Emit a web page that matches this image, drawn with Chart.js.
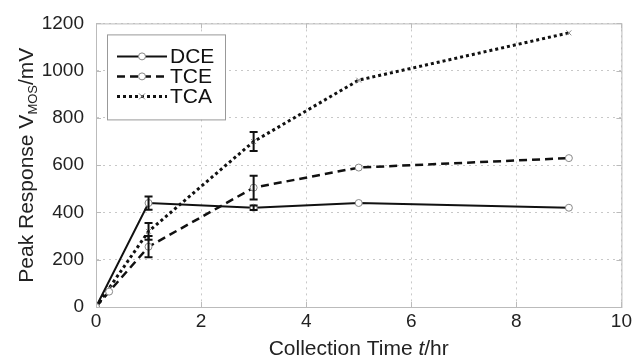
<!DOCTYPE html>
<html>
<head>
<meta charset="utf-8">
<script src="https://cdn.jsdelivr.net/npm/chart.js@4/dist/chart.umd.min.js"></script>
<style>
  html, body { margin: 0; padding: 0; background: #fff; }
  #wrap { width: 635px; height: 360px; }
</style>
</head>
<body>
<div id="wrap"><canvas id="chart" width="635" height="360"></canvas></div>
<script>
// data
var dceT = [0, 1, 3, 5, 9];
var dceV = [0, 440, 420, 440, 420];
var dceErr = [0, 28, 10, 0, 0];

var tceT = [0, 0.25, 1, 3, 5, 9];
var tceV = [0, 65, 255, 505, 590, 630];
var tceErr = [0, 0, 45, 50, 0, 0];

var tcaT = [0, 0.25, 1, 3, 5, 9];
var tcaV = [0, 80, 320, 700, 960, 1160];
var tcaErr = [0, 0, 35, 40, 0, 0];

var xTicks = [0, 2, 4, 6, 8, 10];
var yTicks = [0, 200, 400, 600, 800, 1000, 1200];

function pts(t, v) {
  var out = [];
  for (var i = 0; i < t.length; i++) out.push({x: t[i], y: v[i]});
  return out;
}

var series = [
  {label: 'DCE', t: dceT, v: dceV, err: dceErr, dash: [], width: 2, marker: 'circle'},
  {label: 'TCE', t: tceT, v: tceV, err: tceErr, dash: [8, 5], width: 2.5, marker: 'circle'},
  {label: 'TCA', t: tcaT, v: tcaV, err: tcaErr, dash: [3, 3], width: 3, marker: 'crossRot'}
];

var FONT = '"Liberation Sans", Arial, sans-serif';
var TITLE = 21;

// error bars, titles, inside ticks and the boxed legend
var extras = {
  id: 'extras',
  afterDatasetsDraw: function (chart) {
    var ctx = chart.ctx;
    var xs = chart.scales.x, ys = chart.scales.y;
    ctx.save();
    ctx.strokeStyle = '#111';
    ctx.lineWidth = 2;
    ctx.setLineDash([]);
    series.forEach(function (s) {
      for (var i = 0; i < s.t.length; i++) {
        if (!s.err[i]) continue;
        var px = xs.getPixelForValue(s.t[i]);
        var y1 = ys.getPixelForValue(s.v[i] - s.err[i]);
        var y2 = ys.getPixelForValue(s.v[i] + s.err[i]);
        ctx.beginPath();
        ctx.moveTo(px, y1); ctx.lineTo(px, y2);
        ctx.moveTo(px - 4, y1); ctx.lineTo(px + 4, y1);
        ctx.moveTo(px - 4, y2); ctx.lineTo(px + 4, y2);
        ctx.stroke();
      }
    });
    ctx.restore();
  },
  afterDraw: function (chart) {
    var ctx = chart.ctx;
    var a = chart.chartArea;
    var xs = chart.scales.x, ys = chart.scales.y;
    ctx.save();
    // border and small inward ticks
    ctx.strokeStyle = '#bbb';
    ctx.lineWidth = 1;
    ctx.strokeRect(a.left + 0.5, a.top + 0.5, a.right - a.left, a.bottom - a.top);
    ctx.beginPath();
    xTicks.forEach(function (v) {
      var px = Math.round(xs.getPixelForValue(v)) + 0.5;
      ctx.moveTo(px, a.bottom); ctx.lineTo(px, a.bottom - 5);
      ctx.moveTo(px, a.top); ctx.lineTo(px, a.top + 5);
    });
    yTicks.forEach(function (v) {
      var py = Math.round(ys.getPixelForValue(v)) + 0.5;
      ctx.moveTo(a.left, py); ctx.lineTo(a.left + 5, py);
      ctx.moveTo(a.right, py); ctx.lineTo(a.right - 5, py);
    });
    ctx.stroke();

    // x title
    ctx.fillStyle = '#222';
    ctx.textBaseline = 'alphabetic';
    var cx = (a.left + a.right) / 2;
    var p1 = 'Collection Time ', p2 = 't', p3 = '/hr';
    var f = TITLE + 'px ' + FONT, fi = 'italic ' + TITLE + 'px ' + FONT;
    ctx.font = f;
    var w1 = ctx.measureText(p1).width, w3 = ctx.measureText(p3).width;
    ctx.font = fi;
    var w2 = ctx.measureText(p2).width;
    var x0 = cx - (w1 + w2 + w3) / 2, yb = 355;
    ctx.font = f; ctx.fillText(p1, x0, yb);
    ctx.font = fi; ctx.fillText(p2, x0 + w1, yb);
    ctx.font = f; ctx.fillText(p3, x0 + w1 + w2, yb);

    // y title, rotated, with subscript
    ctx.translate(33, (a.top + a.bottom) / 2);
    ctx.rotate(-Math.PI / 2);
    var q1 = 'Peak Response V', q2 = 'MOS', q3 = '/mV';
    var fs = '13px ' + FONT;
    ctx.font = f;
    var v1 = ctx.measureText(q1).width, v3 = ctx.measureText(q3).width;
    ctx.font = fs;
    var v2 = ctx.measureText(q2).width;
    var s0 = -(v1 + v2 + v3) / 2;
    ctx.font = f; ctx.fillText(q1, s0, 0);
    ctx.font = fs; ctx.fillText(q2, s0 + v1, 4);
    ctx.font = f; ctx.fillText(q3, s0 + v1 + v2, 0);
    ctx.restore();

    // legend
    ctx.save();
    var lx = a.left + 11, ly = a.top + 11, lw = 118, lh = 85;
    ctx.fillStyle = '#fff';
    ctx.fillRect(lx, ly, lw, lh);
    ctx.strokeStyle = '#999';
    ctx.lineWidth = 1;
    ctx.strokeRect(lx + 0.5, ly + 0.5, lw, lh);
    series.forEach(function (s, i) {
      var yy = ly + 22 + i * 20;
      ctx.strokeStyle = '#111';
      ctx.lineWidth = s.width;
      ctx.setLineDash(s.dash);
      ctx.beginPath();
      ctx.moveTo(lx + 10, yy); ctx.lineTo(lx + 60, yy);
      ctx.stroke();
      ctx.setLineDash([]);
      ctx.strokeStyle = '#888';
      ctx.lineWidth = 1;
      ctx.beginPath();
      if (s.marker === 'circle') {
        ctx.fillStyle = '#fff';
        ctx.arc(lx + 35, yy, 3.5, 0, Math.PI * 2);
        ctx.fill();
        ctx.stroke();
      } else {
        ctx.moveTo(lx + 32, yy - 3); ctx.lineTo(lx + 38, yy + 3);
        ctx.moveTo(lx + 32, yy + 3); ctx.lineTo(lx + 38, yy - 3);
        ctx.stroke();
      }
      ctx.fillStyle = '#111';
      ctx.font = '21px ' + FONT;
      ctx.textBaseline = 'middle';
      ctx.fillText(s.label, lx + 63, yy + 1);
    });
    ctx.restore();
  }
};

var datasets = series.map(function (s) {
  return {
    label: s.label,
    data: pts(s.t, s.v),
    borderColor: '#111',
    borderWidth: s.width,
    borderDash: s.dash,
    pointStyle: s.marker,
    pointRadius: 3.5,
    pointBorderColor: '#888',
    pointBackgroundColor: '#fff',
    pointBorderWidth: 1,
    tension: 0,
    fill: false
  };
});

new Chart(document.getElementById('chart').getContext('2d'), {
  type: 'scatter',
  data: {datasets: datasets},
  options: {
    responsive: false,
    animation: false,
    showLine: true,
    layout: {padding: {top: 22, right: 11, left: 0, bottom: 0}},
    plugins: {legend: {display: false}, tooltip: {enabled: false}},
    scales: {
      x: {
        type: 'linear', min: 0, max: 10,
        afterBuildTicks: function (s) { s.ticks = xTicks.map(function (v) { return {value: v}; }); },
        afterFit: function (s) { s.height = 53; },
        grid: {color: '#c8c8c8', lineWidth: 1, drawTicks: false},
        border: {display: true, color: 'rgba(0,0,0,0)', dash: [2, 4]},
        ticks: {font: {family: FONT, size: 19}, color: '#222', padding: 3, maxRotation: 0,
                callback: function (v) { return String(v); }}
      },
      y: {
        type: 'linear', min: 0, max: 1200,
        afterBuildTicks: function (s) { s.ticks = yTicks.map(function (v) { return {value: v}; }); },
        afterFit: function (s) { s.width = 96; },
        grid: {color: '#c8c8c8', lineWidth: 1, drawTicks: false},
        border: {display: true, color: 'rgba(0,0,0,0)', dash: [2, 4]},
        ticks: {font: {family: FONT, size: 19}, color: '#222', padding: 12,
                callback: function (v) { return String(v); }}
      }
    }
  },
  plugins: [extras]
});
</script>
</body>
</html>
